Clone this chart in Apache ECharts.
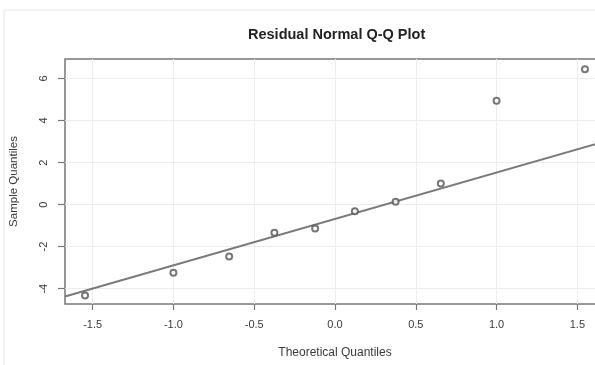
<!DOCTYPE html>
<html>
<head>
<meta charset="utf-8">
<script src="https://cdn.jsdelivr.net/npm/echarts@6/dist/echarts.min.js"></script>
<style>
  html, body { margin: 0; padding: 0; background: #fff; }
  #qq_plot { width: 595px; height: 365px; }
</style>
</head>
<body>
<div id="qq_plot"></div>
<script>
  // data
  var theoQuantiles   = [-1.547, -1.000, -0.655, -0.375, -0.123, 0.123, 0.375, 0.655, 1.000, 1.547];
  var sampleQuantiles = [-4.32, -3.24, -2.47, -1.34, -1.14, -0.32, 0.14, 1.00, 4.94, 6.44];
  var qqLineX = [-1.671, 1.671];
  var qqLineY = [-4.37, 3.01];
  var xTicks = [-1.5, -1.0, -0.5, 0.0, 0.5, 1.0, 1.5];
  var yTicks = [-4, -2, 0, 2, 4, 6];

  var xMin = -1.671, xMax = 1.671,
      yMin = -4.73,  yMax = 6.93;

  var qqChart = echarts.init(document.getElementById('qq_plot'));

  var pointData = theoQuantiles.map(function (x, i) { return [x, sampleQuantiles[i]]; });
  var lineData = qqLineX.map(function (x, i) { return [x, qqLineY[i]]; });

  var axisGray = '#777';
  var textGray = '#3a3a3a';
  var gridGray = '#ececec';

  var qqOption = {
      animation: false,
      title: {
          text: 'Residual Normal Q-Q Plot',
          left: 243,
          top: 22,
          textStyle: {
              fontFamily: 'Liberation Sans',
              fontWeight: 'bold',
              fontSize: 14.5,
              color: '#222'
          }
      },
      graphic: [
          {type: 'line', shape: {x1: 4, y1: 10, x2: 595, y2: 10}, style: {stroke: '#e4e4e4', lineWidth: 1}},
          {type: 'line', shape: {x1: 4, y1: 10, x2: 4, y2: 365}, style: {stroke: '#e4e4e4', lineWidth: 1}}
      ],
      // plot region runs past the right edge: the reference is cropped there
      grid: {
          left: 65,
          top: 59,
          width: 540,
          height: 245,
          outerBoundsMode: 'none',
          show: true,
          borderColor: axisGray,
          borderWidth: 1.5
      },
      xAxis: {
          type: 'value',
          min: xMin,
          max: xMax,
          name: 'Theoretical Quantiles',
          nameLocation: 'middle',
          nameGap: 43,
          nameTextStyle: {fontFamily: 'Liberation Sans', fontSize: 12, color: textGray},
          axisLine: {show: false, onZero: false},
          splitLine: {show: true, lineStyle: {color: gridGray, width: 1}},
          axisTick: {
              show: true,
              length: 6,
              customValues: xTicks,
              lineStyle: {color: axisGray, width: 1.2}
          },
          axisLabel: {
              customValues: xTicks,
              margin: 15,
              fontFamily: 'Liberation Sans',
              fontSize: 11,
              color: textGray,
              formatter: function (v) { return v.toFixed(1); }
          }
      },
      yAxis: {
          type: 'value',
          min: yMin,
          max: yMax,
          name: 'Sample Quantiles',
          nameLocation: 'middle',
          nameGap: 45,
          nameTextStyle: {fontFamily: 'Liberation Sans', fontSize: 11.5, color: textGray},
          axisLine: {show: false, onZero: false},
          splitLine: {show: true, lineStyle: {color: gridGray, width: 1}},
          axisTick: {
              show: true,
              length: 7,
              customValues: yTicks,
              lineStyle: {color: axisGray, width: 1.2}
          },
          axisLabel: {
              customValues: yTicks,
              rotate: 90,
              margin: 16,
              fontFamily: 'Liberation Sans',
              fontSize: 11,
              color: textGray,
              formatter: function (v) { return String(v); }
          }
      },
      series: [
          {
              name: 'qqline',
              type: 'line',
              data: lineData,
              z: 2,
              symbol: 'none',
              lineStyle: {color: '#7a7a7a', width: 2}
          },
          {
              name: 'residuals',
              type: 'scatter',
              data: pointData,
              z: 3,
              symbol: 'emptyCircle',
              symbolSize: 6,
              itemStyle: {color: '#555', borderColor: '#555', borderWidth: 1.6}
          }
      ]
  };

  qqChart.setOption(qqOption);
</script>
</body>
</html>
